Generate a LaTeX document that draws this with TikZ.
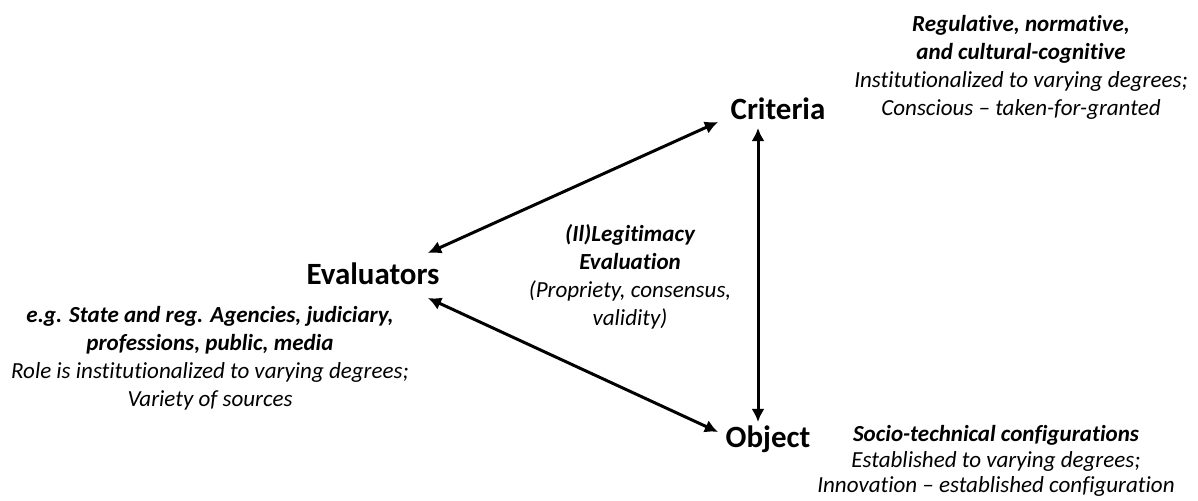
\documentclass[tikz,border=0pt]{standalone}
\usepackage{fontspec}
\setmainfont{Carlito}[Ligatures={TeX,NoCommon}]
\usetikzlibrary{arrows.meta}

\begin{document}
\begin{tikzpicture}[
    main/.style = {font=\bfseries\fontsize{17.6}{21}\selectfont, inner sep=0pt, anchor=base},
    note/.style = {font=\itshape\fontsize{13.1}{15.9}\selectfont, align=center, inner sep=0pt},
    link/.style = {line width=1.7pt, {Latex[length=7.5pt,width=7.5pt]}-{Latex[length=7.5pt,width=7.5pt]}}
]
            \useasboundingbox (0,0) rectangle (23.96,10.02);

            \node[main] (ev) at (7.46,4.32) {Evaluators};
            \node[main] (cr) at (15.56,7.62) {Criteria};
            \node[main] (ob) at (15.36,1.06) {Object};

            \node[note] (evnote) at (4.2,2.86) {\textbf{e.g. State and reg. Agencies, judiciary,}\\
                \textbf{professions, public, media}\\
                Role is institutionalized to varying degrees;\\
                Variety of sources};
            \node[note] (crnote) at (20.42,8.68) {\textbf{Regulative, normative,}\\
                \textbf{and cultural-cognitive}\\
                Institutionalized to varying degrees;\\
                Conscious -- taken-for-granted};
            \node[note, font=\itshape\fontsize{13.1}{14.4}\selectfont] (obnote) at (19.92,0.8) {\textbf{Socio-technical configurations}\\
                Established to varying degrees;\\
                Innovation -- established configuration};
            \node[note] (eval) at (12.6,4.48) {\textbf{(Il)Legitimacy}\\
                \textbf{Evaluation}\\
                (Propriety, consensus,\\
                validity)};

            \draw[link] ([shift={(1.1,0.64)}]ev.base) -- ([shift={(-1.2,-0.04)}]cr.base);
            \draw[link] ([shift={(1.1,-0.26)}]ev.base) -- ([shift={(-1.0,0.32)}]ob.base);
            \draw[link] ([shift={(-0.4,-0.16)}]cr.base) -- ([shift={(-0.2,0.52)}]ob.base);
\end{tikzpicture}
\end{document}
